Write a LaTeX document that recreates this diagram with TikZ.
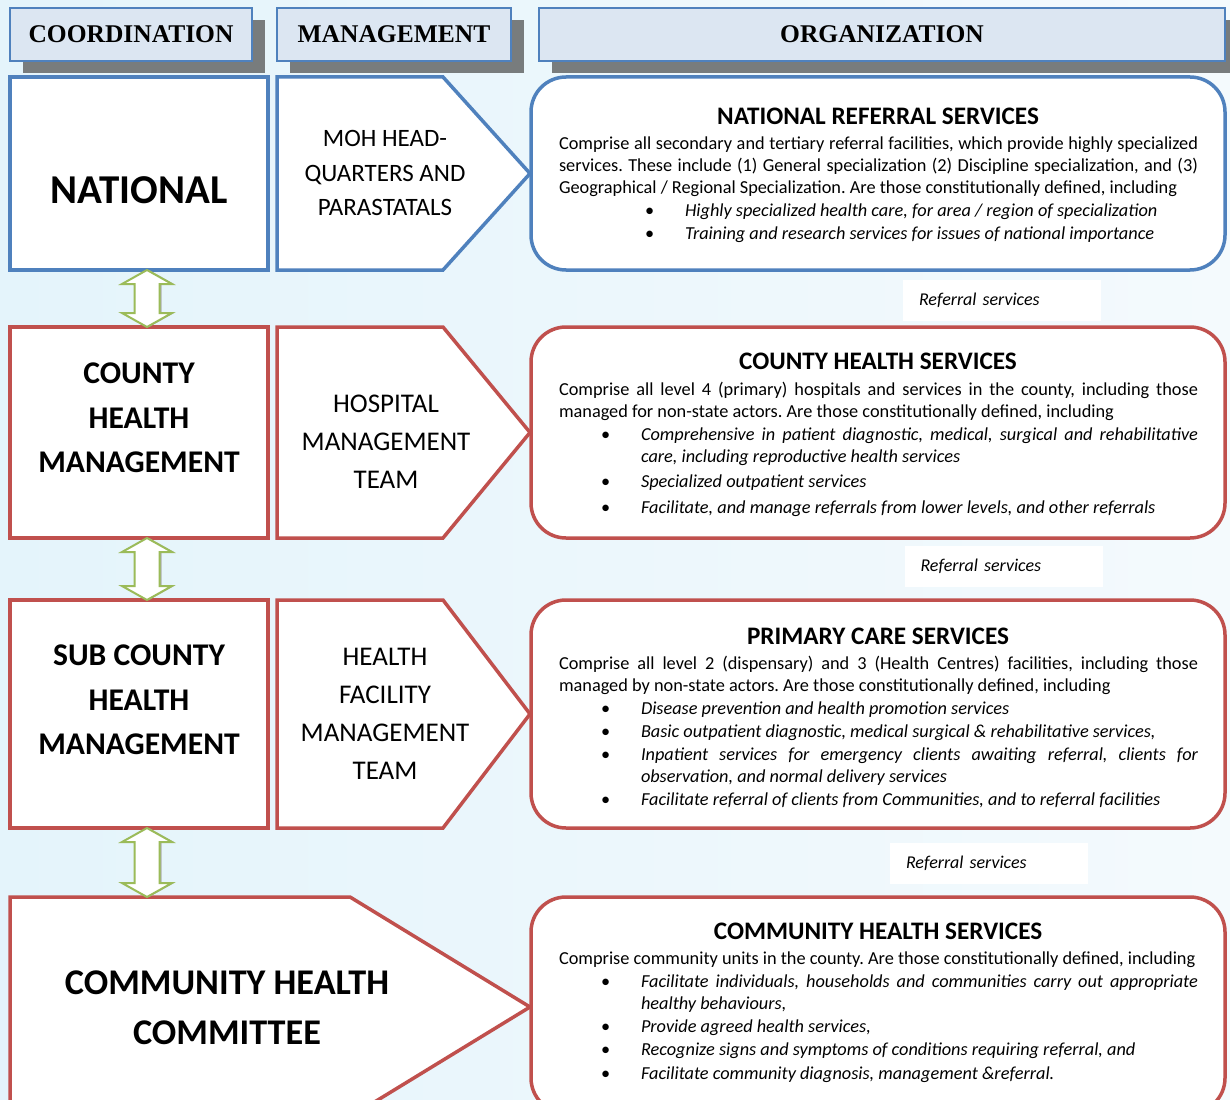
\documentclass[tikz,border=0pt]{standalone}
\usepackage{fontspec}
\setmainfont{Carlito}
\newfontfamily\hdrfont{Liberation Serif}
\usetikzlibrary{calc,shadows}
\frenchspacing
\definecolor{bblue}{RGB}{79,129,189}
\definecolor{rred}{RGB}{192,80,77}
\definecolor{ggreen}{RGB}{155,187,89}
\definecolor{hdrfill}{RGB}{220,230,242}
\definecolor{shgray}{RGB}{120,124,125}
\definecolor{bgA}{RGB}{228,244,251}
\definecolor{bgB}{RGB}{244,250,253}
\newcommand{\jl}[1]{\makebox[639pt][s]{#1}}
\newcommand{\bitem}[3]{\makebox[#2][l]{\hspace*{#1}\textbullet}\textit{#3}}
\newcommand{\bjitem}[3]{\makebox[#2][l]{\hspace*{#1}\textbullet}\makebox[\dimexpr639pt-#2\relax][s]{\itshape #3}}
\newcommand{\bcont}[2]{\hspace*{#1}\textit{#2}}
\newcommand{\bodyfont}{\fontsize{18.3}{22}\selectfont\frenchspacing}
\newcommand{\dblarr}[2]{%
  \fill[arrsh] let \p1=($#1+(10,0)$), \p2=($#2+(10,0)$) in
    (\x1,\y1) -- (\x1+25pt,\y1-14pt) -- (\x1+12.5pt,\y1-14pt) -- (\x1+12.5pt,\y2+14pt) -- (\x1+25pt,\y2+14pt)
    -- (\x1,\y2) -- (\x1-25pt,\y2+14pt) -- (\x1-12.5pt,\y2+14pt) -- (\x1-12.5pt,\y1-14pt) -- (\x1-25pt,\y1-14pt) -- cycle;
  \draw[arr] let \p1=($#1+(8,0)$), \p2=($#2+(8,0)$) in
    (\x1,\y1) -- (\x1+25pt,\y1-14pt) -- (\x1+12.5pt,\y1-14pt) -- (\x1+12.5pt,\y2+14pt) -- (\x1+25pt,\y2+14pt)
    -- (\x1,\y2) -- (\x1-25pt,\y2+14pt) -- (\x1-12.5pt,\y2+14pt) -- (\x1-12.5pt,\y1-14pt) -- (\x1-25pt,\y1-14pt) -- cycle;}
\begin{document}
\begin{tikzpicture}[x=1pt,y=-1pt,
 every node/.style={inner sep=0pt, outer sep=0pt},
 hdr/.style={draw=bblue, line width=1.5pt, fill=hdrfill, minimum height=53pt,
   font=\hdrfont\bfseries\fontsize{25.5}{28}\selectfont,
   general shadow={fill=shgray, shadow xshift=13pt, shadow yshift=-12pt}},
 lbox/.style={draw, line width=3.5pt, fill=white, minimum width=258pt},
 rbox/.style={draw, line width=3.5pt, fill=white, rounded corners=35pt, minimum width=694pt},
 pent/.style={line width=3.5pt, fill=white, line join=miter},
 bigtxt/.style={align=center, font=\bfseries\fontsize{31.6}{44.5}\selectfont},
 midtxt/.style={align=center, font=\fontsize{27}{38}\selectfont},
 ttl/.style={anchor=base, font=\bfseries\fontsize{25.2}{28}\selectfont},
 body/.style={anchor=base west},
 reflab/.style={fill=white, minimum height=41pt, text width=166pt, inner xsep=16pt, align=left,
   font=\itshape\fontsize{18}{22}\selectfont},
 arr/.style={draw=ggreen, line width=2pt, fill=white, line join=miter},
 arrsh/.style={fill=shgray!60},
]
\clip (0,0) rectangle (1230,1099);
\shade[left color=bgA, right color=bgB] (0,0) rectangle (1230,1099);

% headers
\node[hdr, minimum width=242pt] (h1) at (131,34.5) {COORDINATION};
\node[hdr, minimum width=234pt] (h2) at (394,34.5) {MANAGEMENT};
\node[hdr, minimum width=686pt] (h3) at (882,34.5) {ORGANIZATION};

% row 1
\node[lbox, draw=bblue, minimum height=193pt] (nat) at (139,173.5) {};
\node[font=\bfseries\fontsize{41}{48}\selectfont] (natt) at (139,190) {NATIONAL};
\draw[pent, draw=bblue] (277,77) -- (443,77) -- (530,173.5) -- (443,270) -- (277,270) -- cycle;
\node[midtxt, font=\fontsize{25}{34.5}\selectfont] (moh) at (385,173) {MOH HEAD-\\QUARTERS AND\\PARASTATALS};
\node[rbox, draw=bblue, minimum height=193pt] (nrs) at (878,173.5) {};
\node[ttl] (nrst) at (878,125) {NATIONAL REFERRAL SERVICES};
\node[body] (nrsb) at (559,150) {\begin{minipage}[t]{639pt}\bodyfont
\jl{Comprise all secondary and tertiary referral facilities, which provide highly specialized}\\
\jl{services. These include (1) General specialization (2) Discipline specialization, and (3)}\\
Geographical / Regional Specialization. Are those constitutionally defined, including\\[1pt]
\bitem{86pt}{126pt}{Highly specialized health care, for area / region of specialization}\\[1pt]
\bitem{86pt}{126pt}{Training and research services for issues of national importance}
\end{minipage}};

% row 2
\node[lbox, draw=rred, minimum height=211pt] (cty) at (139,432.5) {};
\node[bigtxt] (ctyt) at (139,418) {COUNTY\\HEALTH\\MANAGEMENT};
\draw[pent, draw=rred] (277,327) -- (443,327) -- (530,432.5) -- (443,538) -- (277,538) -- cycle;
\node[midtxt] (hmt) at (386,442) {HOSPITAL\\MANAGEMENT\\TEAM};
\node[rbox, draw=rred, minimum height=211pt] (chs) at (878,432.5) {};
\node[ttl] (chst) at (878,369) {COUNTY HEALTH SERVICES};
\node[body] (chsb) at (559,395) {\begin{minipage}[t]{639pt}\bodyfont
\jl{Comprise all level 4 (primary) hospitals and services in the county, including those}\\
managed for non-state actors. Are those constitutionally defined, including\\[1pt]
\bjitem{42pt}{82pt}{Comprehensive in patient diagnostic, medical, surgical and rehabilitative}\\
\bcont{82pt}{care, including reproductive health services}\\[3pt]
\bitem{42pt}{82pt}{Specialized outpatient services}\\[4pt]
\bitem{42pt}{82pt}{Facilitate, and manage referrals from lower levels, and other referrals}
\end{minipage}};

% row 3
\node[lbox, draw=rred, minimum height=228pt] (sub) at (139,714) {};
\node[bigtxt] (subt) at (139,700) {SUB COUNTY\\HEALTH\\MANAGEMENT};
\draw[pent, draw=rred] (277,600) -- (443,600) -- (530,714) -- (443,828) -- (277,828) -- cycle;
\node[midtxt] (hfm) at (385,714) {HEALTH\\FACILITY\\MANAGEMENT\\TEAM};
\node[rbox, draw=rred, minimum height=228pt] (pcs) at (878,714) {};
\node[ttl] (pcst) at (878,644) {PRIMARY CARE SERVICES};
\node[body] (pcsb) at (559,669) {\begin{minipage}[t]{639pt}\bodyfont
\jl{Comprise all level 2 (dispensary) and 3 (Health Centres) facilities, including those}\\
managed by non-state actors. Are those constitutionally defined, including\\[1pt]
\bitem{42pt}{82pt}{Disease prevention and health promotion services}\\[1pt]
\bitem{42pt}{82pt}{Basic outpatient diagnostic, medical surgical \& rehabilitative services,}\\[1pt]
\bjitem{42pt}{82pt}{Inpatient services for emergency clients awaiting referral, clients for}\\
\bcont{82pt}{observation, and normal delivery services}\\[1pt]
\bitem{42pt}{82pt}{Facilitate referral of clients from Communities, and to referral facilities}
\end{minipage}};

% row 4
\draw[pent, draw=rred] (10,897) -- (350,897) -- (530,1007) -- (350,1117) -- (10,1117) -- cycle;
\coordinate (comtop) at (139,897);
\node[align=center, font=\bfseries\fontsize{36.2}{50}\selectfont] (com) at (227,1008) {COMMUNITY HEALTH\\COMMITTEE};
\node[rbox, draw=rred, minimum height=216pt] (cms) at (878,1005) {};
\node[ttl] (cmst) at (878,939) {COMMUNITY HEALTH SERVICES};
\node[body] (cmsb) at (559,964) {\begin{minipage}[t]{639pt}\bodyfont
Comprise community units in the county. Are those constitutionally defined, including\\[1pt]
\bjitem{42pt}{82pt}{Facilitate individuals, households and communities carry out appropriate}\\
\bcont{82pt}{healthy behaviours,}\\[1pt]
\bitem{42pt}{82pt}{Provide agreed health services,}\\[1pt]
\bitem{42pt}{82pt}{Recognize signs and symptoms of conditions requiring referral, and}\\[2pt]
\bitem{42pt}{82pt}{Facilitate community diagnosis, management \&referral.}
\end{minipage}};

% referral labels
\node[reflab] (r1) at (1002,300.5) {Referral services};
\node[reflab] (r2) at (1003.5,566.5) {Referral services};
\node[reflab] (r3) at (989,863.5) {Referral services};

% double arrows
\dblarr{(nat.south)}{(cty.north)}
\dblarr{(cty.south)}{(sub.north)}
\dblarr{(sub.south)}{(comtop)}
\end{tikzpicture}
\end{document}
